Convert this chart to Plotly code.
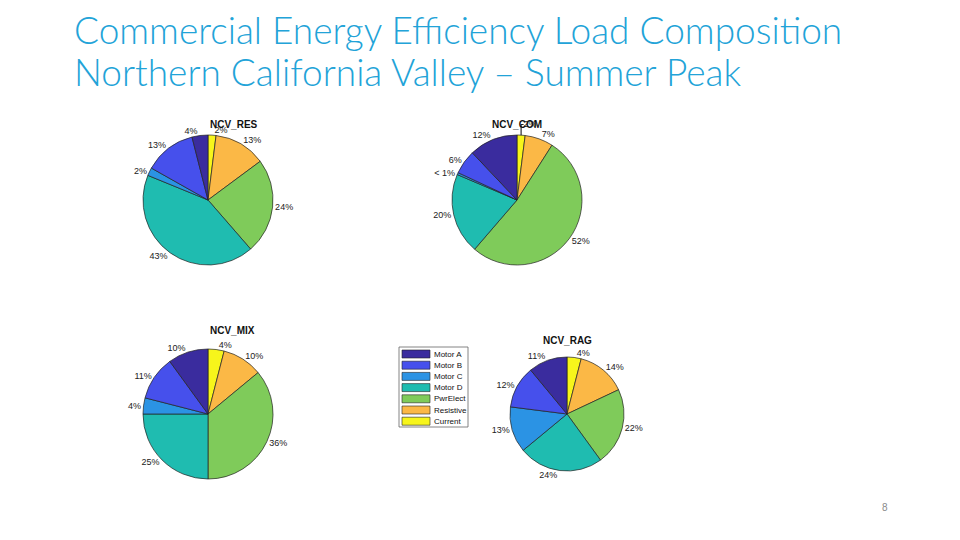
import plotly.graph_objects as go

W, H = 960, 540
OX, OY = 8, 8  # page body margin of the rendered html

# load components, in legend order
LOADS = ["Motor A", "Motor B", "Motor C", "Motor D", "PwrElect", "Resistive", "Current"]
COLORS = ["#3a2c9e", "#4650ec", "#2b93e4", "#1fbcb0", "#7fcb5a", "#fbb846", "#f7f51b"]

NCV_RES = [4, 13, 2, 43, 24, 13, 2]
NCV_COM = [12, 6, 0.5, 20, 52, 7, 2]
NCV_MIX = [10, 11, 4, 25, 36, 10, 4]
NCV_RAG = [11, 12, 13, 24, 22, 14, 4]

RES_TEXT = ["4%", "13%", "2%", "43%", "24%", "13%", "2%"]
COM_TEXT = ["12%", "6%", "< 1%", "20%", "52%", "7%", "2%"]
MIX_TEXT = ["10%", "11%", "4%", "25%", "36%", "10%", "4%"]
RAG_TEXT = ["11%", "12%", "13%", "24%", "22%", "14%", "4%"]

TITLE_LINES = ["Commercial Energy Efficiency Load Composition",
               "Northern California Valley – Summer Peak"]


def px(x):
    return (x - OX) / W


def py(y):
    return 1 - (y - OY) / H


# name, values, labels, centre (px), radius (px), title y (px)
PIES = [
    ("NCV_RES", NCV_RES, RES_TEXT, (208, 200), 65, 117),
    ("NCV_COM", NCV_COM, COM_TEXT, (517, 200), 65, 117),
    ("NCV_MIX", NCV_MIX, MIX_TEXT, (208, 414), 65, 330),
    ("NCV_RAG", NCV_RAG, RAG_TEXT, (567, 414), 57, 340),
]

fig = go.Figure()

for name, vals, txt, (cx, cy), r, ty in PIES:
    # matlab draws counterclockwise from the top, which is clockwise of the reversed list
    fig.add_trace(
        go.Pie(
            labels=LOADS[::-1],
            values=vals[::-1],
            text=txt[::-1],
            texttemplate="%{text}",
            textposition="outside",
            textfont=dict(family="Arial", size=9, color="#222222"),
            sort=False,
            direction="clockwise",
            rotation=0,
            marker=dict(colors=COLORS[::-1], line=dict(color="#222222", width=0.7)),
            domain=dict(x=[px(cx - r), px(cx + r)], y=[py(cy + r), py(cy - r)]),
            automargin=False,
            showlegend=False,
            hoverinfo="label+percent",
            name=name,
        )
    )
    fig.add_annotation(
        x=px(cx), y=py(ty), xref="paper", yref="paper",
        text=f"<b>{name}</b>", showarrow=False,
        font=dict(family="Arial", size=10, color="#111111"),
    )

# matlab style legend box
LEG_X, LEG_Y, ROW = 399, 347, 11.2
fig.add_shape(type="rect", xref="paper", yref="paper",
              x0=px(LEG_X), x1=px(468), y0=py(LEG_Y), y1=py(LEG_Y + 80),
              line=dict(color="#666666", width=0.8), fillcolor="white")
for k, (lab, col) in enumerate(zip(LOADS, COLORS)):
    yc = LEG_Y + 7 + k * ROW
    fig.add_shape(type="rect", xref="paper", yref="paper",
                  x0=px(LEG_X + 3), x1=px(LEG_X + 31), y0=py(yc + 4), y1=py(yc - 4),
                  line=dict(color="#222222", width=0.6), fillcolor=col)
    fig.add_annotation(x=px(LEG_X + 33), y=py(yc), xref="paper", yref="paper",
                       xanchor="left", yanchor="middle", text=lab, showarrow=False,
                       font=dict(family="Arial", size=8, color="#111111"))

for k, line in enumerate(TITLE_LINES):
    fig.add_annotation(
        x=px(72), y=py(5 + k * 42), xref="paper", yref="paper", xanchor="left", yanchor="top",
        text=line, showarrow=False,
        font=dict(family="Lato", size=37, weight=300, color="#22a3d8"),
    )
fig.add_annotation(
    x=px(890), y=py(515), xref="paper", yref="paper",
    text="8", showarrow=False,
    font=dict(family="Arial", size=10, color="#8a8a8a"),
)

fig.update_layout(
    width=W, height=H,
    margin=dict(l=0, r=0, t=0, b=0),
    paper_bgcolor="white",
    plot_bgcolor="white",
    showlegend=False,
)

fig.write_html("out.html")
